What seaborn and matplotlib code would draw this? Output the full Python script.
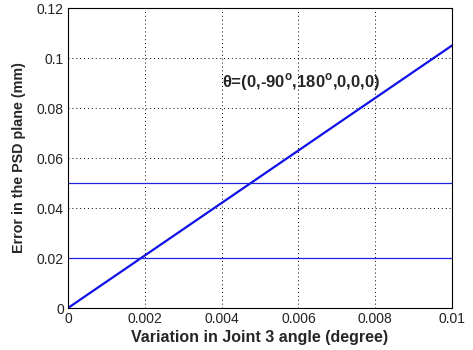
import matplotlib
matplotlib.use("Agg")
import matplotlib.pyplot as plt
import seaborn as sns
import pandas as pd

# data
x_vals = [0.0, 0.01]
y_vals = [0.0, 0.105]
h_levels = [0.02, 0.05]
x_ticks = [0, 0.002, 0.004, 0.006, 0.008, 0.01]
x_tick_labels = ["0", "0.002", "0.004", "0.006", "0.008", "0.01"]
y_ticks = [0, 0.02, 0.04, 0.06, 0.08, 0.1, 0.12]
y_tick_labels = ["0", "0.02", "0.04", "0.06", "0.08", "0.1", "0.12"]
annot_text = "θ=(0,-90$^{\\mathbf{o}}$,180$^{\\mathbf{o}}$,0,0,0)"

sns.set_style("white")
plt.rcParams["font.family"] = ["Liberation Sans", "DejaVu Sans"]
plt.rcParams["mathtext.fontset"] = "custom"
plt.rcParams["mathtext.bf"] = "Liberation Sans:bold"
plt.rcParams["mathtext.rm"] = "Liberation Sans"

fig = plt.figure(figsize=(4.73, 3.5), dpi=100)
ax = fig.add_axes([68 / 473, 1 - 308 / 350, 384 / 473, 300 / 350])

df = pd.DataFrame({"x": x_vals, "y": y_vals})
sns.lineplot(data=df, x="x", y="y", ax=ax, color="#1010e8", linewidth=1.6)
for h in h_levels:
    ax.axhline(h, color="#2020e0", linewidth=0.9)

ax.set_xlim(0, 0.01)
ax.set_ylim(0, 0.12)
ax.set_xticks(x_ticks)
ax.set_xticklabels(x_tick_labels)
ax.set_yticks(y_ticks)
ax.set_yticklabels(y_tick_labels)
ax.tick_params(labelsize=10, length=0, pad=3, colors="#222222")
ax.grid(True, linestyle=(0, (1, 3)), color="black", linewidth=0.7)
for s in ax.spines.values():
    s.set_color("black")
    s.set_linewidth(0.8)

ax.set_xlabel("Variation in Joint 3 angle (degree)", fontsize=11.5, fontweight="bold", labelpad=3)
ax.set_ylabel("Error in the PSD plane (mm)", fontsize=10.3, fontweight="bold", labelpad=8)
ax.text(0.004, 0.0905, annot_text, fontsize=12, fontweight="bold", va="center", ha="left")

fig.savefig("out.png", dpi=100)
